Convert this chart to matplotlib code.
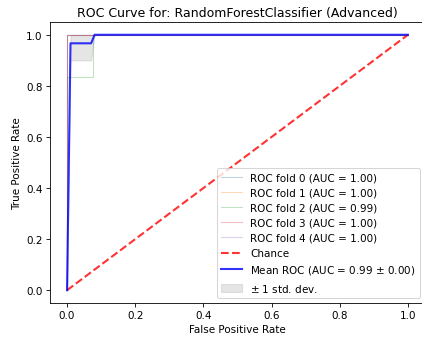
import numpy as np
import matplotlib
matplotlib.use("Agg")
import matplotlib.pyplot as plt

# Per-fold ROC curves (fpr, tpr)
fold_fpr = [
    [0.0, 0.0, 1.0],
    [0.0, 0.0, 1.0],
    [0.0, 0.0, 0.075, 0.075, 1.0],
    [0.0, 0.0, 1.0],
    [0.0, 0.0, 1.0],
]
fold_tpr = [
    [0.0, 1.0, 1.0],
    [0.0, 1.0, 1.0],
    [0.0, 0.833, 0.833, 1.0, 1.0],
    [0.0, 1.0, 1.0],
    [0.0, 1.0, 1.0],
]
fold_auc_labels = ["1.00", "1.00", "0.99", "1.00", "1.00"]
mean_label = "Mean ROC (AUC = 0.99 $\\pm$ 0.00)"
title = "ROC Curve for: RandomForestClassifier (Advanced)"

DPI = 75
fig = plt.figure(figsize=(422 / DPI, 342 / DPI), dpi=DPI)
ax = fig.add_axes([50 / 422, 38 / 342, 375 / 422, 281 / 342])

mean_fpr = np.linspace(0, 1, 100)
tprs = []
for i, (f, t) in enumerate(zip(fold_fpr, fold_tpr)):
    ax.plot(f, t, lw=1, alpha=0.3, label=f"ROC fold {i} (AUC = {fold_auc_labels[i]})")
    it = np.interp(mean_fpr, f, t)
    it[0] = 0.0
    tprs.append(it)

ax.plot([0, 1], [0, 1], linestyle="--", lw=2, color="r", label="Chance", alpha=0.8)

mean_tpr = np.mean(tprs, axis=0)
mean_tpr[-1] = 1.0
ax.plot(mean_fpr, mean_tpr, color="b", label=mean_label, lw=2, alpha=0.8)

std_tpr = np.std(tprs, axis=0)
upper = np.minimum(mean_tpr + std_tpr, 1)
lower = np.maximum(mean_tpr - std_tpr, 0)
ax.fill_between(mean_fpr, lower, upper, color="grey", alpha=0.2, label=r"$\pm$ 1 std. dev.")

ax.set_xlim(-0.05, 1.05)
ax.set_ylim(-0.05, 1.05)
ax.set_xlabel("False Positive Rate")
ax.set_ylabel("True Positive Rate")
ax.set_title(title)
ax.legend(loc="lower right")

fig.savefig("out.png", dpi=DPI)
